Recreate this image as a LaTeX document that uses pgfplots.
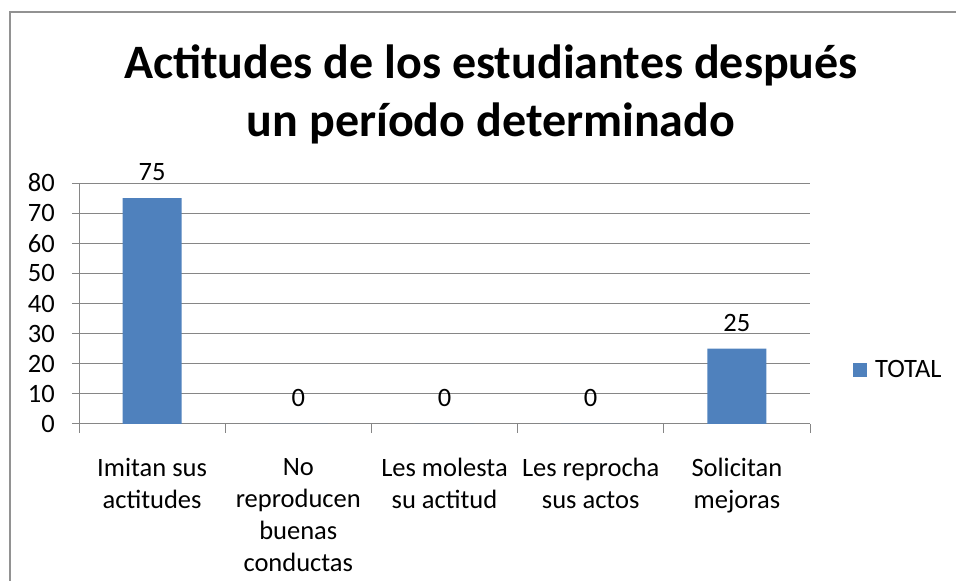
\documentclass[border=0pt]{standalone}
\usepackage{pgfplots}
\pgfplotsset{compat=1.18}
\usepackage{fontspec}
\setmainfont{Carlito}
\definecolor{barblue}{HTML}{4F81BD}
\definecolor{axgray}{HTML}{868686}
\begin{document}
\begin{tikzpicture}[x=1pt,y=1pt]
\useasboundingbox (0,0) rectangle (956,581);
% chart frame (only top and left edges visible)
\draw[axgray!90,line width=2pt] (10,-10) -- (10,569) -- (970,569);
\node[font=\fontsize{48}{58}\selectfont\bfseries,align=center,anchor=base] at (491,444)
  {Actitudes de los estudiantes después\\un período determinado};
\begin{axis}[
  at={(79pt,157pt)},anchor=south west,
  scale only axis,width=731pt,height=241pt,
  ybar,bar width=59pt,
  xmin=-0.5,xmax=4.5,ymin=0,ymax=80,
  ytick={0,10,...,80},
  xtick={0,1,2,3,4},
  xticklabels={Imitan sus\\actitudes,No\\reproducen\\buenas\\conductas,Les molesta\\su actitud,Les reprocha\\sus actos,Solicitan\\mejoras},
  extra x ticks={-0.5,0.5,1.5,2.5,3.5,4.5},
  extra x tick labels={},
  extra x tick style={grid=none,major tick length=9pt,xtick style={draw=axgray,line width=1pt}},
  axis x line*=bottom,axis y line*=left,
  axis line style={axgray,line width=1pt},
  tick align=outside,
  major tick length=7pt,
  xtick style={draw=none},
  ytick style={axgray,line width=1pt},
  ymajorgrids,grid style={axgray,line width=1pt},
  tick label style={font=\fontsize{26.5}{32}\selectfont,text=black},
  /pgf/number format/assume math mode=true,
  yticklabel style={inner sep=0pt,xshift=-17pt,anchor=east},
  xticklabel style={align=center,inner sep=0pt,anchor=north,yshift=-27pt},
  nodes near coords,
  every node near coord/.append style={font=\fontsize{26.5}{32}\selectfont,text=black,inner sep=0pt,anchor=south,yshift=17pt},
  legend style={at={(axis description cs:1,0.224)},anchor=west,xshift=43pt,draw=none,fill=none,
    inner sep=0pt,font=\fontsize{26.5}{32}\selectfont,
    nodes={inner sep=0pt}},
  legend image code/.code={\fill[barblue] (0pt,-7pt) rectangle (14pt,7pt);\path (22pt,0pt);},
]
\addplot[fill=barblue,draw=none,bar shift=0pt] coordinates {(0,75) (1,0) (2,0) (3,0) (4,25)};
\addlegendentry{TOTAL}
\end{axis}
\end{tikzpicture}
\end{document}
